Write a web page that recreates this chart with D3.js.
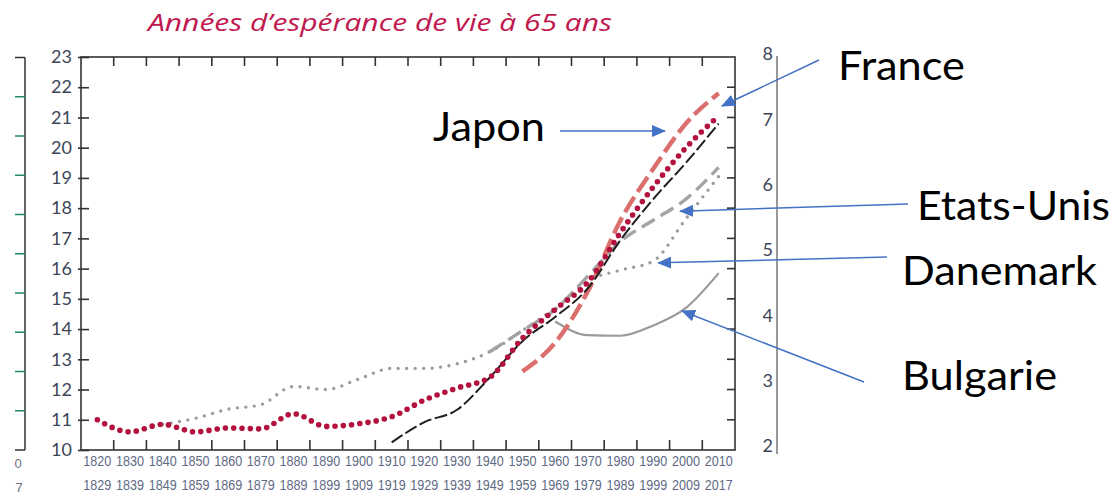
<!DOCTYPE html>
<html><head><meta charset="utf-8">
<script src="https://cdn.jsdelivr.net/npm/d3@7"></script>
<style>body{margin:0;background:#fff}svg{display:block}</style>
</head><body>
<svg id="c" width="1119" height="498"></svg>
<script>
// ---------- data ----------
const periodStart = ["1820","1830","1840","1850","1860","1870","1880","1890","1900","1910","1920","1930","1940","1950","1960","1970","1980","1990","2000","2010"];
const periodEnd   = ["1829","1839","1849","1859","1869","1879","1889","1899","1909","1919","1929","1939","1949","1959","1969","1979","1989","1999","2009","2017"];
const leftTicks  = [10,11,12,13,14,15,16,17,18,19,20,21,22,23];
const rightTicks = [2,3,4,5,6,7,8];

// red dotted
const franceVals   = [11.0,10.6,10.85,10.6,10.73,10.7,11.2,10.78,10.87,11.1,11.65,12.05,12.4,13.7,14.65,15.55,17.2,18.7,20.0,21.05];
// salmon dashed
const japonVals    = [null,null,null,null,null,null,null,null,null,null,null,null,null,12.6,13.55,15.25,17.6,19.3,20.8,21.8];
// black dashed
const blackVals    = [null,null,null,null,null,null,null,null,null,10.25,10.92,11.33,12.4,13.6,14.4,15.35,16.95,18.3,19.5,20.8];
// grey dashed
const usaVals      = [null,null,null,null,null,null,null,null,null,null,null,null,13.25,13.95,14.65,15.75,16.9,17.6,18.3,19.35];
// grey dotted
const danemarkVals = [null,null,10.85,11.05,11.35,11.5,12.1,12.0,12.35,12.7,12.7,12.85,13.25,13.95,14.7,15.6,15.95,16.25,17.65,19.05];
// grey solid
const bulgarieVals = [null,null,null,null,null,null,null,null,null,null,null,null,null,null,14.25,13.8,13.78,14.12,14.7,15.85];

const title = "Années d’espérance de vie à 65 ans";
const annLabels = ["France","Japon","Etats-Unis","Danemark","Bulgarie"];
// arrow tips in data space: [fractional period index, value]
const annTipIndex = [19.6, 17.86, 18.32, 17.65, 18.38];
const annTipValue = [21.38, 20.55, 17.9, 16.19, 14.6];

// ---------- layout ----------
const svg = d3.select("#c");
const L = 81, R = 735, T = 57, B = 450;
const x = d3.scaleBand().domain(periodStart).range([L, R]).padding(0);
const y = d3.scaleLinear().domain([10, 23]).range([B, T]);
const yR = d3.scaleLinear().domain([2, 8]).range([446, 54]);
const xAt = i => L + i * x.step();
const cx = i => x(periodStart[i]) + x.bandwidth() / 2;

const numCol = "#3d4658";

// title
svg.append("text").attr("x", 148).attr("y", 31)
  .attr("font-family", "Open Sans, sans-serif").attr("font-style", "italic")
  .attr("font-size", 24).attr("fill", "#c0184e")
  .attr("textLength", 464).attr("lengthAdjust", "spacingAndGlyphs")
  .text(title);

// cropped axis at far left
const yC = d3.scaleLinear().domain([0, 10]).range([B, 57.5]);
svg.append("line").attr("x1", 25).attr("x2", 25).attr("y1", yC(10)).attr("y2", yC(0)).attr("stroke", "#333").attr("stroke-width", 1.5);
svg.selectAll(".cropTk").data(d3.range(0, 11)).join("line")
  .attr("x1", 15).attr("x2", 25).attr("y1", d => yC(d)).attr("y2", d => yC(d))
  .attr("stroke", d => (d === 0 || d === 10) ? "#333" : "#1e8a5e").attr("stroke-width", 1.5);
svg.append("text").attr("x", 18).attr("y", 468).attr("font-family", "Liberation Sans Narrow, Liberation Sans, sans-serif").attr("font-size", 13).attr("fill", "#6b7282").attr("text-anchor", "middle").text("0");
svg.append("text").attr("x", 19).attr("y", 492).attr("font-family", "Liberation Sans Narrow, Liberation Sans, sans-serif").attr("font-size", 13).attr("fill", "#6b7282").attr("text-anchor", "middle").text("7");

// plot frame
svg.append("rect").attr("x", L).attr("y", T).attr("width", R - L).attr("height", B - T)
  .attr("fill", "none").attr("stroke", "#333").attr("stroke-width", 1.6);

// left axis
const gL = svg.append("g").attr("transform", `translate(${L},0)`)
  .call(d3.axisLeft(y).tickValues(leftTicks).tickSize(-8).tickPadding(9));
gL.select(".domain").remove();
gL.selectAll(".tick line").attr("x1", -3).attr("x2", 8).attr("stroke", "#333").attr("stroke-width", 1.6);
gL.selectAll(".tick text").attr("font-family", "Lato, sans-serif").attr("font-size", 18).attr("fill", numCol);

// right side of frame ticks
svg.selectAll(".rTk").data(leftTicks.slice(1, -1)).join("line")
  .attr("x1", R - 8).attr("x2", R).attr("y1", d => y(d)).attr("y2", d => y(d))
  .attr("stroke", "#333").attr("stroke-width", 1.6);

// top & bottom ticks at period boundaries
const bounds = d3.range(1, periodStart.length);
svg.selectAll(".tTk").data(bounds).join("line")
  .attr("x1", d => xAt(d)).attr("x2", d => xAt(d)).attr("y1", T).attr("y2", T + 9)
  .attr("stroke", "#333").attr("stroke-width", 1.6);
svg.selectAll(".bTk").data(bounds).join("line")
  .attr("x1", d => xAt(d)).attr("x2", d => xAt(d)).attr("y1", B).attr("y2", B - 10)
  .attr("stroke", "#333").attr("stroke-width", 1.6);

// bottom labels
const gB1 = svg.append("g").attr("transform", `translate(0,${B})`)
  .call(d3.axisBottom(x).tickSize(0).tickPadding(6));
gB1.select(".domain").remove();
const gB2 = svg.append("g").attr("transform", `translate(0,${B + 25})`)
  .call(d3.axisBottom(x).tickSize(0).tickPadding(5).tickFormat((d, i) => periodEnd[i]));
gB2.select(".domain").remove();
[gB1, gB2].forEach(g => g.selectAll(".tick text")
  .attr("font-family", "Liberation Sans Narrow, Liberation Sans, sans-serif")
  .attr("font-size", 14).attr("fill", "#606a84")
  .attr("textLength", 28).attr("lengthAdjust", "spacingAndGlyphs"));

// right axis
svg.append("line").attr("x1", 777).attr("x2", 777).attr("y1", 56).attr("y2", 454).attr("stroke", "#333").attr("stroke-width", 1);
const gR = svg.append("g").attr("transform", "translate(773,0)")
  .call(d3.axisLeft(yR).tickValues(rightTicks).tickSize(0).tickPadding(0).tickFormat(d3.format("d")));
gR.select(".domain").remove();
gR.selectAll(".tick text").attr("font-family", "Lato, sans-serif").attr("font-size", 18).attr("fill", numCol);

// ---------- series ----------
const line = vals => d3.line()
  .defined(d => d != null)
  .x((d, i) => cx(i))
  .y(d => y(d))
  .curve(d3.curveMonotoneX)(vals);

const series = [
  {v: bulgarieVals, stroke: "#9a9a9a", w: 2.2, dash: null, cap: "butt"},
  {v: danemarkVals, stroke: "#9b9b9b", w: 3.4, dash: "0 8.5", cap: "round"},
  {v: usaVals,      stroke: "#a3a3a3", w: 3.4, dash: "15 7", cap: "butt"},
  {v: japonVals,    stroke: "#db6f6e", w: 4.4, dash: "18 6", cap: "butt"},
  {v: blackVals,    stroke: "#1e1e1e", w: 2.0, dash: "13 3.5", cap: "butt"},
  {v: franceVals,   stroke: "#b3123e", w: 5.6, dash: "0 8.3", cap: "round"}
];
svg.selectAll(".series").data(series).join("path")
  .attr("d", d => line(d.v))
  .attr("fill", "none").attr("stroke", d => d.stroke).attr("stroke-width", d => d.w)
  .attr("stroke-dasharray", d => d.dash).attr("stroke-linecap", d => d.cap);

// ---------- annotations ----------
const blue = "#4472c4";
svg.append("defs").append("marker").attr("id", "ah")
  .attr("viewBox", "0 0 14 12").attr("refX", 13).attr("refY", 6)
  .attr("markerWidth", 14).attr("markerHeight", 12).attr("markerUnits", "userSpaceOnUse")
  .attr("orient", "auto")
  .append("path").attr("d", "M0,0 L14,6 L0,12 Z").attr("fill", blue);

const annStart = [[819, 60], [560, 131], [908, 204], [887, 257], [864, 382]];
const annText = [[838, 80, 127], [433, 141, 112], [917, 220, 193], [902, 285, 195], [902, 390, 155]];
annLabels.forEach((lab, k) => {
  svg.append("line")
    .attr("x1", annStart[k][0]).attr("y1", annStart[k][1])
    .attr("x2", xAt(annTipIndex[k])).attr("y2", y(annTipValue[k]))
    .attr("stroke", blue).attr("stroke-width", 1.5).attr("marker-end", "url(#ah)");
  svg.append("text").attr("x", annText[k][0]).attr("y", annText[k][1])
    .attr("font-family", "Lato, sans-serif").attr("font-size", 41).attr("fill", "#000")
    .attr("textLength", annText[k][2]).attr("lengthAdjust", "spacingAndGlyphs")
    .text(lab);
});
</script>
</body></html>
